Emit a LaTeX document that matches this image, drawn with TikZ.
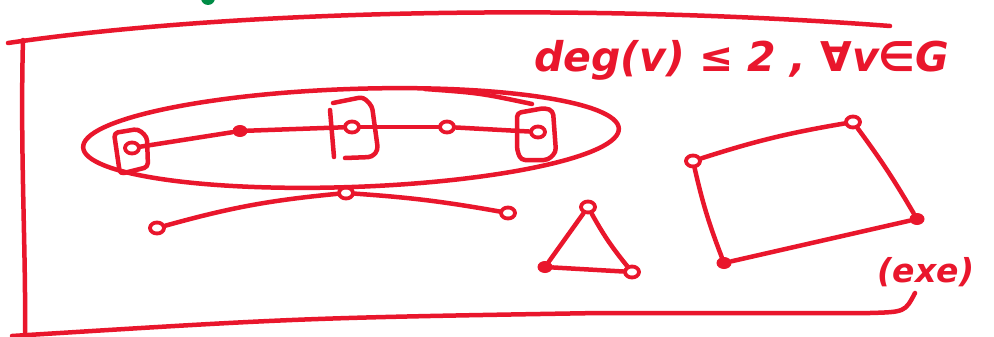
\documentclass[tikz,border=0pt]{standalone}
\usepackage{fontspec}
\usetikzlibrary{shapes.geometric}
\newfontfamily\hand{DejaVu Sans}
\definecolor{ink}{RGB}{233,22,44}
\definecolor{grn}{RGB}{0,140,70}
\begin{document}
\begin{tikzpicture}[x=1pt,y=-1pt,
  pen/.style={draw=ink,line width=4.5pt,line cap=round,line join=round},
  opn/.style={pen,ellipse,inner sep=0pt,minimum width=14pt,minimum height=11pt,line width=3.8pt},
  ful/.style={ellipse,fill=ink,inner sep=0pt,minimum width=15pt,minimum height=12pt},
  edge/.style={pen}]
\useasboundingbox (0,0) rectangle (994,337);
\fill[white] (0,0) rectangle (994,337);
% green blob
\fill[grn] (208,-2) circle (7);
% frame
\draw[pen] (8,43) .. controls (250,8) and (600,4) .. (890,26);
\draw[pen] (23,40) .. controls (20,150) and (26,250) .. (25,335);
\draw[pen] (12,336) .. controls (300,318) .. (600,313) -- (870,313) .. controls (905,312) .. (915,293);
% condition text
\node[text=ink,font=\hand\bfseries\itshape\fontsize{41}{45}\selectfont,anchor=base west,inner sep=0pt] (cond) at (534,72) {deg(v) ≤ 2 , ∀v∈G};
% exe label
\node[text=ink,font=\hand\bfseries\itshape\fontsize{33}{36}\selectfont,inner sep=0pt] (exe) at (926,272) {(exe)};
% ellipse around the path
\draw[pen] (351,138) ellipse [x radius=268, y radius=49, rotate=2];
\draw[pen] (425,89) .. controls (480,93) .. (532,104);
% path nodes
\node[opn] (p1) at (132,148) {};
\node[ful] (p2) at (240,131) {};
\node[opn] (p3) at (352,127) {};
\node[opn] (p4) at (447,127) {};
\node[opn] (p5) at (538,132) {};
\draw[edge] (p1) -- (p2);
\draw[edge] (p2) -- (p3);
\draw[edge] (p3) -- (p4);
\draw[edge] (p4) -- (p5);
% boxes
\draw[pen,rounded corners=4pt] (114,133) -- (138,129) -- (147,137) -- (148,167) -- (120,174) -- cycle;
\draw[pen,rounded corners=4pt] (333,103) -- (363,97) -- (372,106) -- (378,150) -- (372,157) -- (345,158);
\draw[pen] (330,110) -- (334,157);
\draw[pen,rounded corners=4pt] (517,113) -- (545,108) -- (553,111) -- (556,152) -- (548,160) -- (521,160) -- (517,150) -- cycle;
% lower path
\node[opn] (q1) at (157,228) {};
\node[opn] (q2) at (346,193) {};
\node[opn] (q3) at (508,213) {};
\draw[edge] (q1) to[bend left=5] (q2);
\draw[edge] (q2) to[bend left=3] (q3);
% triangle
\node[opn] (t1) at (588,207) {};
\node[ful] (t2) at (545,267) {};
\node[opn] (t3) at (632,272) {};
\draw[edge] (t1) -- (t2);
\draw[edge] (t2) -- (t3);
\draw[edge] (t3) to[bend left=5] (t1);
% quadrilateral
\node[opn] (r1) at (693,161) {};
\node[opn] (r2) at (853,122) {};
\node[ful] (r3) at (917,219) {};
\node[ful] (r4) at (724,263) {};
\draw[edge] (r1) to[bend left=4] (r2);
\draw[edge] (r2) to[bend left=3] (r3);
\draw[edge] (r3) -- (r4);
\draw[edge] (r4) to[bend left=4] (r1);
\end{tikzpicture}
\end{document}
